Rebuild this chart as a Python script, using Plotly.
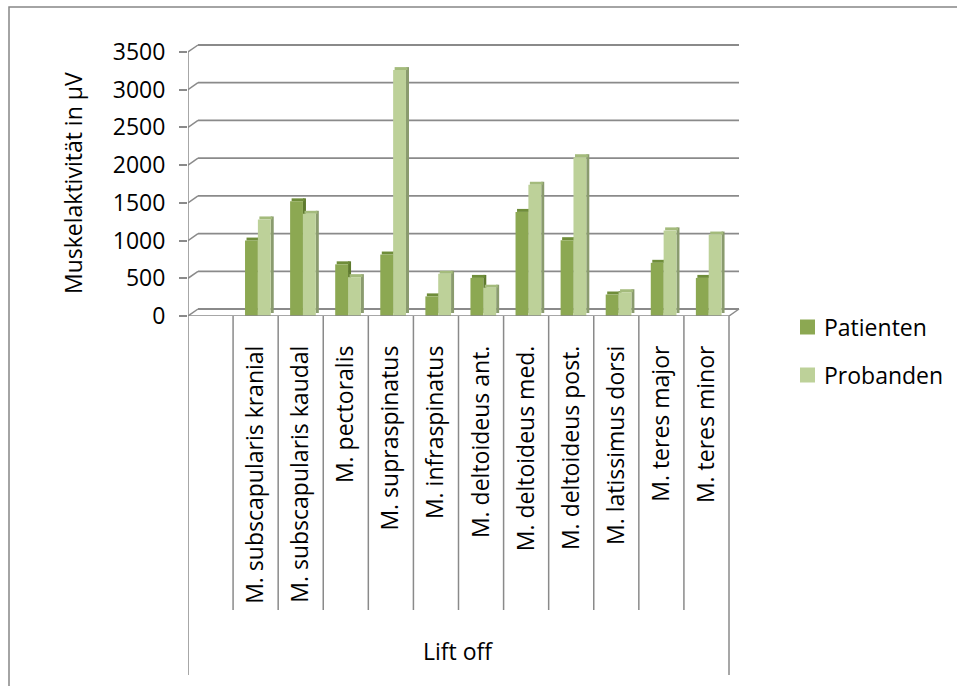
import plotly.graph_objects as go

categories = ["M. subscapularis kranial", "M. subscapularis kaudal", "M. pectoralis",
              "M. supraspinatus", "M. infraspinatus", "M. deltoideus ant.",
              "M. deltoideus med.", "M. deltoideus post.", "M. latissimus dorsi",
              "M. teres major", "M. teres minor"]
patienten = [1000, 1520, 685, 815, 260, 505, 1380, 1005, 285, 705, 505]
probanden = [1280, 1355, 515, 3260, 560, 375, 1740, 2105, 315, 1135, 1080]
y_ticks = [0, 500, 1000, 1500, 2000, 2500, 3000, 3500]
group_label = "Lift off"
y_title = "Muskelaktivität in µV"
series_names = ["Patienten", "Probanden"]

FONT = "Open Sans"
W, H = 957, 686
L, R, T, B = 188, 216, 40, 370
PW, PH = W - L - R, H - T - B
n_slots = len(categories) + 1          # first slot is empty
slot_px = 45.1
x_max = n_slots - 0.5 + 12 / slot_px
y_max = 3500 + 12 * 3500 / 264
px_per_unit = PH / y_max

def px_x(px):
    return (px - L) / PW

def px_y(py):
    return (T + PH - py) / PH

dxu = 10 / slot_px          # wall depth in category units
dyu = 7 / px_per_unit       # wall depth in value units
bdx = 3 / slot_px           # bar depth
bdy = 3 / px_per_unit
bw = 0.285

xs = list(range(1, n_slots))
grid_col = "#8a8a8a"

styles = [
    dict(off=-0.235, front="#8CA852", side="#5E7A2E", top="#6F8D3A"),
    dict(off=0.05, front="#BDD199", side="#8A9B6E", top="#A4BB7C"),
]

fig = go.Figure()

for name, vals, st in zip(series_names, [patienten, probanden], styles):
    fig.add_trace(go.Bar(x=xs, y=vals, base=bdy, offset=st["off"] + bw, width=bdx,
                         marker=dict(color=st["side"], line=dict(width=0)),
                         showlegend=False, hoverinfo="skip"))
    fig.add_trace(go.Bar(x=xs, y=[bdy] * len(vals), base=vals, offset=st["off"] + bdx / 2,
                         width=bw, marker=dict(color=st["top"], line=dict(width=0)),
                         showlegend=False, hoverinfo="skip"))
    fig.add_trace(go.Bar(x=xs, y=vals, offset=st["off"], width=bw, name=name,
                         marker=dict(color=st["front"], line=dict(width=0)),
                         showlegend=False))

shapes = []
# back wall gridlines with left-wall diagonals
for v in y_ticks:
    shapes.append(dict(type="line", xref="x", yref="y", x0=-0.5, y0=v,
                       x1=-0.5 + dxu, y1=v + dyu, line=dict(color=grid_col, width=1.5), layer="below"))
    shapes.append(dict(type="line", xref="x", yref="y", x0=-0.5 + dxu, y0=v + dyu,
                       x1=n_slots - 0.5 + dxu, y1=v + dyu, line=dict(color=grid_col, width=1.8), layer="below"))
# floor front edge and right diagonal
shapes.append(dict(type="line", xref="x", yref="y", x0=-0.5, y0=0, x1=n_slots - 0.5, y1=0,
                   line=dict(color=grid_col, width=1.5)))
shapes.append(dict(type="line", xref="x", yref="y", x0=n_slots - 0.5, y0=0,
                   x1=n_slots - 0.5 + dxu, y1=dyu, line=dict(color=grid_col, width=1.5)))
# front value axis line
shapes.append(dict(type="line", xref="x", yref="y", x0=-0.5, y0=0, x1=-0.5, y1=max(y_ticks),
                   line=dict(color=grid_col, width=1.5)))
# category separators
for k in range(n_slots + 1):
    outer = k in (0, n_slots)
    shapes.append(dict(type="line", xref="x", yref="paper", x0=k - 0.5, x1=k - 0.5,
                       y0=0, y1=px_y(675 if outer else 610),
                       line=dict(color=grid_col, width=1.5)))
# outer chart border (top and left visible)
shapes.append(dict(type="rect", xref="paper", yref="paper", x0=px_x(9), y0=px_y(720),
                   x1=px_x(990), y1=px_y(7), line=dict(color="#878787", width=1.5)))

annotations = [
    dict(text=y_title, xref="paper", yref="paper", x=px_x(73), y=px_y(183),
         xanchor="center", yanchor="middle",
         textangle=-90, showarrow=False, font=dict(family=FONT, size=23, color="black")),
    dict(text=group_label, xref="paper", yref="paper", x=px_x(458), y=px_y(651),
         xanchor="center", yanchor="middle",
         showarrow=False, font=dict(family=FONT, size=23, color="black")),
]
# legend drawn manually
for i, (name, st) in enumerate(zip(series_names, styles)):
    cy = 327 + 48 * i
    shapes.append(dict(type="rect", xref="paper", yref="paper", x0=px_x(800), x1=px_x(815),
                       y0=px_y(cy + 7.5), y1=px_y(cy - 7.5), fillcolor=st["front"],
                       line=dict(width=0)))
    annotations.append(dict(text=name, xref="paper", yref="paper", x=px_x(822), y=px_y(cy),
                            xanchor="left", yanchor="middle", showarrow=False,
                            font=dict(family=FONT, size=23, color="black")))

fig.update_layout(
    width=W, height=H, margin=dict(l=L, r=R, t=T, b=B),
    paper_bgcolor="white", plot_bgcolor="white",
    barmode="overlay", showlegend=False,
    font=dict(family=FONT, size=23, color="black"),
    xaxis=dict(range=[-0.5, x_max], tickmode="array", tickvals=xs, ticktext=categories,
               tickangle=-90, ticks="", showgrid=False, zeroline=False, showline=False,
               ticklabelstandoff=24, tickfont=dict(family=FONT, size=23, color="black")),
    yaxis=dict(range=[0, y_max], tickmode="array", tickvals=y_ticks,
               ticks="outside", ticklen=8, tickcolor=grid_col, tickwidth=1.5,
               showgrid=False, zeroline=False, showline=False, ticklabelstandoff=9,
               tickfont=dict(family=FONT, size=23, color="black")),
    shapes=shapes, annotations=annotations,
)

fig.write_html("out.html")
